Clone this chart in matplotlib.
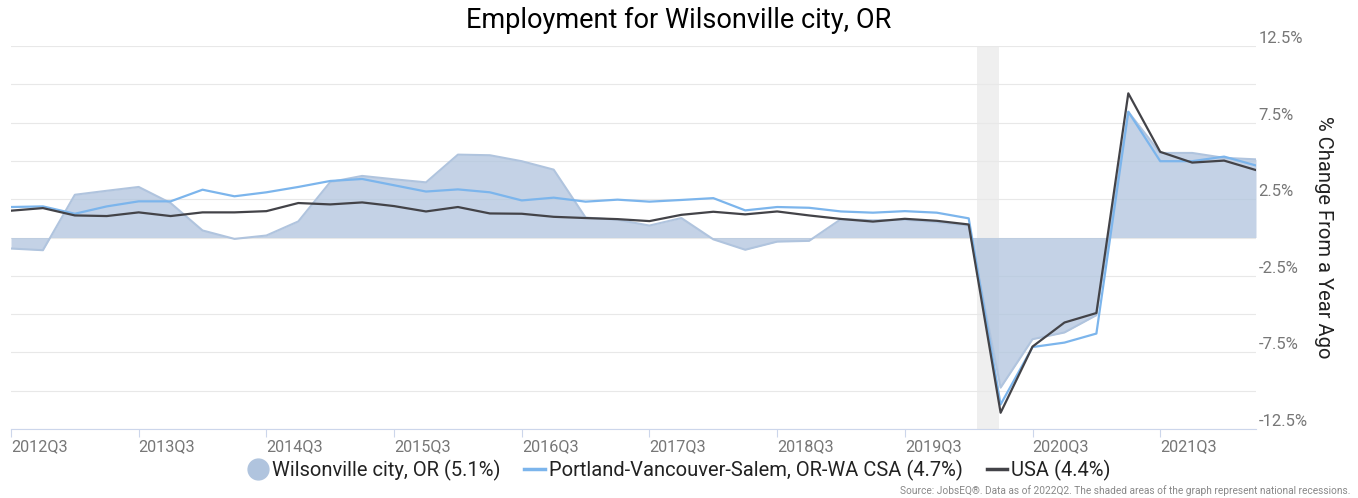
import numpy as np
from matplotlib import pyplot as plt
from matplotlib.lines import Line2D

plt.rcParams['font.family'] = ['Roboto', 'DejaVu Sans']

# quarterly, 2012Q3 .. 2022Q2 (% change from a year ago)
quarters = [f"{y}Q{q}" for y in range(2012, 2023) for q in range(1, 5)][2:42]

wilsonville = [-0.72, -0.83, 2.79, 3.05, 3.30, 2.25, 0.46, -0.09, 0.13, 1.05,
               3.62, 4.02, 3.80, 3.60, 5.41, 5.37, 4.98, 4.43, 1.30, 1.16,
               0.78, 1.27, -0.12, -0.80, -0.27, -0.22, 1.20, 1.12, 1.16, 1.00,
               0.78, -9.80, -6.64, -6.20, -5.07, 8.20, 5.52, 5.52, 5.20, 5.10]
portland = [1.99, 2.03, 1.55, 2.03, 2.36, 2.36, 3.12, 2.69, 2.95, 3.30,
            3.69, 3.82, 3.41, 3.00, 3.14, 2.95, 2.42, 2.60, 2.34, 2.47,
            2.34, 2.45, 2.57, 1.77, 1.99, 1.94, 1.70, 1.62, 1.72, 1.62,
            1.25, -10.90, -7.15, -6.86, -6.27, 8.21, 4.98, 4.98, 5.28, 4.70]
usa = [1.75, 1.92, 1.44, 1.40, 1.64, 1.40, 1.64, 1.64, 1.72, 2.25,
       2.16, 2.29, 2.05, 1.70, 1.99, 1.57, 1.55, 1.35, 1.27, 1.20,
       1.07, 1.48, 1.68, 1.51, 1.70, 1.44, 1.21, 1.04, 1.22, 1.09,
       0.85, -11.44, -7.12, -5.55, -4.93, 9.41, 5.59, 4.89, 5.02, 4.40]

series_names = ["Wilsonville city, OR (5.1%)",
                "Portland-Vancouver-Salem, OR-WA CSA (4.7%)",
                "USA (4.4%)"]
recession = (30.25, 30.95)  # 2020 Feb .. 2020Q2, in quarter index

AREA = '#b0c4de'
BLUE = '#7cb5ec'
DARK = '#434348'
GRAY = '#777777'

x = np.arange(len(quarters))

fig = plt.figure(figsize=(13.58, 4.98), dpi=100)
ax = fig.add_axes([11 / 1358, 1 - 429 / 498, 1245 / 1358, 383 / 498])

ax.axvspan(*recession, color='#efefef', lw=0, zorder=0)
ax.fill_between(x, wilsonville, 0, color=AREA, alpha=0.75, lw=0, zorder=2)
ax.plot(x, wilsonville, color=AREA, lw=1.5, zorder=2)
ax.plot(x, portland, color=BLUE, lw=1.6, zorder=3)
ax.plot(x, usa, color=DARK, lw=1.6, zorder=4)

ax.set_xlim(0, len(quarters) - 1)
ax.set_ylim(-12.5, 12.5)

# grid every 2.5, labels every 5 on the right
ax.set_yticks(np.arange(-12.5, 12.6, 2.5))
ax.tick_params(axis='y', length=0, labelleft=False)
ax.grid(axis='y', color='#e8e8e8', lw=0.8, zorder=1)
for v in np.arange(-12.5, 12.6, 5):
    ax.text(1.002, v, f"{v:g}%", transform=ax.get_yaxis_transform(),
            ha='left', va='bottom', fontsize=12, color=GRAY)

xt = x[::4]
ax.set_xticks(xt)
ax.set_xticklabels([quarters[i] for i in xt], ha='left')
ax.tick_params(axis='x', length=6, color='#ccd6eb', labelcolor=GRAY,
               labelsize=11.7, pad=1)

for s in ['top', 'right', 'left']:
    ax.spines[s].set_visible(False)
ax.spines['bottom'].set_color('#ccd6eb')
ax.spines['bottom'].set_zorder(5)

fig.text(0.5, 1 - 20 / 498, "Employment for Wilsonville city, OR",
         ha='center', va='center', fontsize=19.5, color='black')
fig.text(1323 / 1358, 0.523, "% Change From a Year Ago", rotation=-90,
         ha='center', va='center', fontsize=14.5, color='#222222')

handles = [Line2D([], [], marker='o', ls='none', ms=15, color=AREA),
           Line2D([], [], color=BLUE, lw=2.5),
           Line2D([], [], color=DARK, lw=2.5)]
fig.legend(handles, series_names, loc='center', bbox_to_anchor=(0.5, 1 - 470 / 498),
           ncol=3, frameon=False, fontsize=14.5, handlelength=1.0,
           handletextpad=0.2, columnspacing=1.2, labelcolor='#222222')

fig.text(1350 / 1358, 1 - 491 / 498,
         "Source: JobsEQ®. Data as of 2022Q2. The shaded areas of the graph represent national recessions.",
         ha='right', va='center', fontsize=7.3, color='#888888')

plt.savefig('out.png', dpi=100)
